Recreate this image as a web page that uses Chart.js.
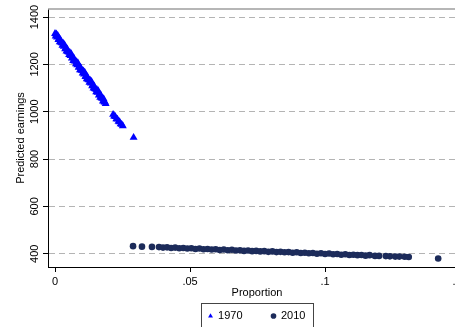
<!DOCTYPE html>
<html>
<head>
<meta charset="utf-8">
<script src="https://cdn.jsdelivr.net/npm/chart.js@4.4.1/dist/chart.umd.min.js"></script>
<style>
  html, body { margin: 0; padding: 0; background: #fff; overflow: hidden; }
  #wrap { width: 475px; height: 341px; }
</style>
</head>
<body>
<div id="wrap"><canvas id="earningsChart" width="475" height="341"></canvas></div>
<script>
// 1970: proportion vs predicted earnings
const prop1970 = [0, 0.00025, 0.0005, 0.00075, 0.001, 0.00125, 0.0015, 0.00175, 0.002, 0.00225,
  0.0025, 0.00275, 0.003, 0.00325, 0.0035, 0.00375, 0.004, 0.00425, 0.0045, 0.00475,
  0.005, 0.00525, 0.0055, 0.00575, 0.006, 0.00625, 0.0065, 0.00675, 0.007, 0.00725,
  0.0075, 0.00775, 0.008, 0.00825, 0.0085, 0.00875, 0.009, 0.00925, 0.0095, 0.00975,
  0.01, 0.01025, 0.0105, 0.01075, 0.011, 0.01125, 0.0115, 0.01175, 0.012, 0.01225,
  0.0125, 0.01275, 0.013, 0.01325, 0.0135, 0.01375, 0.014, 0.01425, 0.0145, 0.01475,
  0.015, 0.01525, 0.0155, 0.01575, 0.016, 0.01625, 0.0165, 0.01675, 0.017, 0.01725,
  0.0175, 0.01775, 0.018, 0.01825, 0.0185, 0.01875,
  0.0215, 0.0219, 0.0223, 0.0227, 0.0231, 0.0235, 0.0239, 0.0243, 0.0247, 0.0251,
  0.0291];
const earn1970 = [1330, 1319, 1328, 1315, 1322, 1304, 1310, 1295, 1304, 1293,
  1291, 1280, 1289, 1276, 1283, 1265, 1270, 1256, 1265, 1254,
  1252, 1241, 1250, 1237, 1244, 1226, 1231, 1216, 1226, 1215,
  1213, 1202, 1211, 1198, 1205, 1187, 1192, 1177, 1186, 1175,
  1174, 1163, 1172, 1159, 1166, 1148, 1153, 1138, 1147, 1136,
  1134, 1124, 1133, 1120, 1127, 1109, 1114, 1099, 1108, 1097,
  1095, 1084, 1093, 1081, 1088, 1070, 1075, 1060, 1069, 1058,
  1056, 1045, 1054, 1041, 1040, 1034,
  988, 981, 979, 970, 968, 959, 957, 948, 946, 940,
  891];

// 2010: proportion vs predicted earnings
const prop2010 = [0.0289, 0.0322, 0.0359, 0.0385, 0.0400, 0.0415, 0.0430, 0.0445, 0.0460, 0.0475,
  0.0490, 0.0505, 0.0520, 0.0535, 0.0550, 0.0565, 0.0580, 0.0595, 0.0610, 0.0625,
  0.0640, 0.0655, 0.0670, 0.0685, 0.0700, 0.0715, 0.0730, 0.0745, 0.0760, 0.0775,
  0.0790, 0.0805, 0.0820, 0.0835, 0.0850, 0.0865, 0.0880, 0.0895, 0.0910, 0.0925,
  0.0940, 0.0955, 0.0970, 0.0985, 0.1000, 0.1015, 0.1030, 0.1045, 0.1060, 0.1075,
  0.1090, 0.1105, 0.1120, 0.1135, 0.1150, 0.1165, 0.1185, 0.1200, 0.1225, 0.1240,
  0.1260, 0.1275, 0.1295, 0.1310, 0.1419];
const earn2010 = [432, 430, 429, 428, 426, 427, 424, 426, 423, 424,
  422, 423, 420, 422, 419, 420, 418, 419, 416, 418,
  415, 417, 414, 415, 412, 414, 411, 412, 410, 411,
  408, 410, 407, 408, 406, 407, 404, 406, 403, 404,
  402, 403, 400, 402, 399, 401, 398, 399, 396, 398,
  395, 396, 394, 395, 392, 394, 391, 391, 390, 389,
  388, 388, 387, 386, 380];

const seriesLabels = ["1970", "2010"];
const xTicks = [0, 0.05, 0.1, 0.15];
const xTickLabels = ["0", ".05", ".1", ".15"];
const yTicks = [400, 600, 800, 1000, 1200, 1400];

const toPoints = (xs, ys) => xs.map((x, i) => ({ x: x, y: ys[i] }));

// gray top rule, legend nudge and the box around the legend
const frame = {
  id: "frame",
  afterLayout(chart) {
    chart.legend.top -= 9.5;
    chart.legend.bottom -= 9.5;
  },
  afterDraw(chart) {
    const ctx = chart.ctx, a = chart.chartArea;
    ctx.save();
    ctx.strokeStyle = "#9e9e9e";
    ctx.lineWidth = 1.5;
    ctx.beginPath();
    ctx.moveTo(a.left, a.top);
    ctx.lineTo(a.right, a.top);
    ctx.stroke();
    const boxes = chart.legend.legendHitBoxes;
    if (boxes && boxes.length) {
      const first = boxes[0], last = boxes[boxes.length - 1];
      const l = Math.round(first.left - 8), r = Math.round(last.left + last.width + 8);
      const t = Math.round(first.top - 7.5), b = Math.round(first.top + first.height + 8);
      ctx.strokeStyle = "#444";
      ctx.lineWidth = 1;
      ctx.strokeRect(l + 0.5, t + 0.5, r - l, b - t);
    }
    ctx.restore();
  }
};

Chart.defaults.font.family = "'Liberation Sans', Arial, sans-serif";
Chart.defaults.font.size = 11;
Chart.defaults.color = "#000";

new Chart(document.getElementById("earningsChart"), {
  type: "scatter",
  data: {
    datasets: [{
      label: seriesLabels[0],
      data: toPoints(prop1970, earn1970),
      pointStyle: "triangle",
      pointRadius: 4.6,
      borderWidth: 0,
      backgroundColor: "#0000ff",
      borderColor: "#0000ff"
    }, {
      label: seriesLabels[1],
      data: toPoints(prop2010, earn2010),
      pointStyle: "circle",
      pointRadius: 3.3,
      borderWidth: 0,
      backgroundColor: "#1c2b5a",
      borderColor: "#1c2b5a"
    }]
  },
  options: {
    responsive: false,
    animation: false,
    events: [],
    layout: { padding: { top: 9, right: 9, left: 0, bottom: 0 } },
    plugins: {
      tooltip: { enabled: false },
      legend: {
        position: "bottom",
        fullSize: false,
        labels: { usePointStyle: true, boxWidth: 4, boxHeight: 4, padding: 29, color: "#000" }
      }
    },
    scales: {
      x: {
        type: "linear",
        min: -0.0026,
        max: 0.1522,
        afterBuildTicks: s => { s.ticks = xTicks.map(v => ({ value: v })); },
        afterFit: s => { s.height = 24; },
        ticks: { callback: (v, i) => xTickLabels[i], padding: 3, autoSkip: false, maxRotation: 0 },
        grid: { drawOnChartArea: false, tickLength: 5, tickColor: "#000" },
        border: { color: "#000", width: 1 },
        title: { display: true, text: "Proportion", padding: { top: 0, bottom: -8.6 } }
      },
      y: {
        min: 344,
        max: 1434,
        afterBuildTicks: s => { s.ticks = yTicks.map(v => ({ value: v })); },
        afterFit: s => { s.width = 48; },
        ticks: { callback: v => String(v), minRotation: 90, maxRotation: 90, crossAlign: "center", padding: -4 },
        grid: { color: "#b4b4b4", lineWidth: 1, tickLength: 5, tickColor: "#000" },
        border: { color: "#000", width: 1, dash: [6, 4] },
        title: { display: true, text: "Predicted earnings", padding: { top: 14, bottom: 0 } }
      }
    }
  },
  plugins: [frame]
});
</script>
</body>
</html>
